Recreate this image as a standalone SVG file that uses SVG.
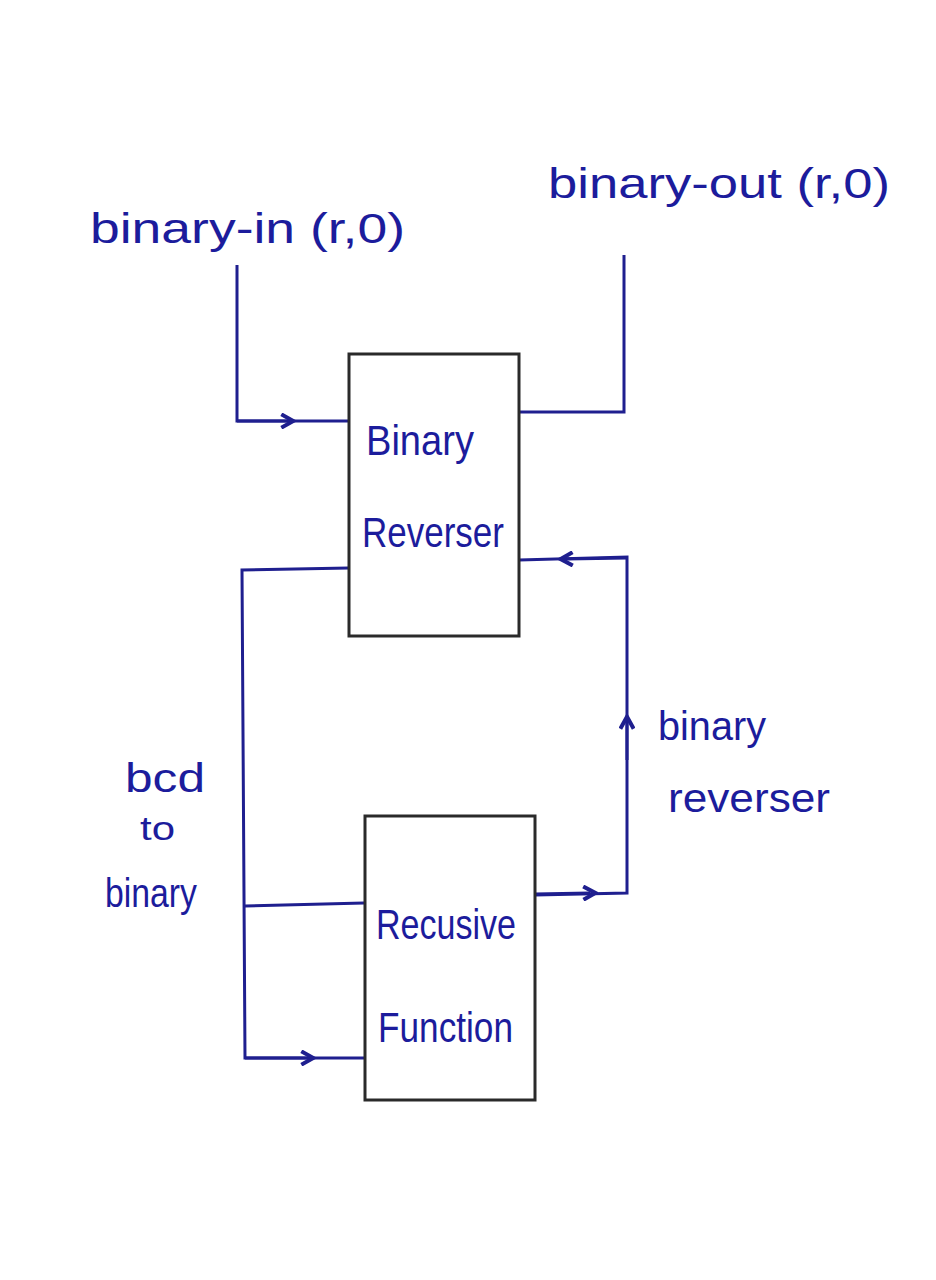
<svg xmlns="http://www.w3.org/2000/svg" width="936" height="1280" viewBox="0 0 936 1280">
<defs>
<marker id="arr" viewBox="0 0 12 12" refX="6" refY="6" markerWidth="16" markerHeight="16" markerUnits="userSpaceOnUse" orient="auto">
<path d="M1,1 L10,6 L1,11" fill="none" stroke="#1f1f8f" stroke-width="3"/>
</marker>
<style>
.box{fill:#ffffff;stroke:#2a2a2a;stroke-width:3}
.wire{fill:none;stroke:#1f1f8f;stroke-width:3}
.lbl{font-family:"Liberation Sans",Arial,sans-serif;fill:#1c1c9c}
</style>
</defs>
<rect x="0" y="0" width="936" height="1280" fill="#ffffff"/>
<g id="connectors">
<path class="wire" d="M237,265 L237,421 L349,421"/>
<path class="wire" d="M237,421 L288,421" marker-end="url(#arr)"/>
<path class="wire" d="M519,412 L624,412 L624,255"/>
<path class="wire" d="M349,568 L242,570 L245,1058 L364,1058"/>
<path class="wire" d="M245,1058 L308,1058" marker-end="url(#arr)"/>
<path class="wire" d="M245,906 L364,903"/>
<path class="wire" d="M535,895 L627,893 L627,557 L519,560"/>
<path class="wire" d="M535,894 L590,893" marker-end="url(#arr)"/>
<path class="wire" d="M627,760 L627,722" marker-end="url(#arr)"/>
<path class="wire" d="M627,558 L566,559" marker-end="url(#arr)"/>
</g>
<g id="binary-reverser">
<rect class="box" x="349" y="354" width="170" height="282"/>
<text class="lbl" x="366" y="455" font-size="42" textLength="108" lengthAdjust="spacingAndGlyphs">Binary</text>
<text class="lbl" x="362" y="547" font-size="42" textLength="142" lengthAdjust="spacingAndGlyphs">Reverser</text>
</g>
<g id="recursive-function">
<rect class="box" x="365" y="816" width="170" height="284"/>
<text class="lbl" x="376" y="939" font-size="42" textLength="140" lengthAdjust="spacingAndGlyphs">Recusive</text>
<text class="lbl" x="378" y="1042" font-size="42" textLength="135" lengthAdjust="spacingAndGlyphs">Function</text>
</g>
<g id="label-binary-in">
<text class="lbl" x="90" y="243" font-size="42" textLength="315" lengthAdjust="spacingAndGlyphs">binary-in (r,0)</text>
</g>
<g id="label-binary-out">
<text class="lbl" x="548" y="198" font-size="42" textLength="342" lengthAdjust="spacingAndGlyphs">binary-out (r,0)</text>
</g>
<g id="label-bcd-to-binary">
<text class="lbl" x="125" y="792" font-size="40" textLength="80" lengthAdjust="spacingAndGlyphs">bcd</text>
<text class="lbl" x="140" y="840" font-size="34" textLength="35" lengthAdjust="spacingAndGlyphs">to</text>
<text class="lbl" x="105" y="907" font-size="40" textLength="92" lengthAdjust="spacingAndGlyphs">binary</text>
</g>
<g id="label-binary-reverser">
<text class="lbl" x="658" y="740" font-size="40" textLength="108" lengthAdjust="spacingAndGlyphs">binary</text>
<text class="lbl" x="668" y="812" font-size="40" textLength="162" lengthAdjust="spacingAndGlyphs">reverser</text>
</g>
</svg>
